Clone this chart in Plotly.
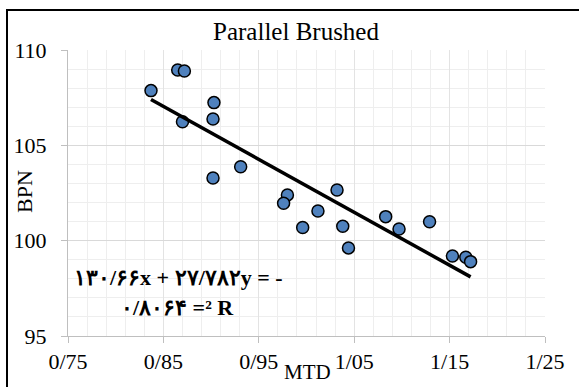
import plotly.graph_objects as go

# Data
mtd = [0.837, 0.865, 0.872, 0.903, 0.870, 0.902, 0.931, 0.902, 0.980, 0.976,
       0.996, 1.012, 1.032, 1.038, 1.044, 1.083, 1.097, 1.129, 1.153, 1.167, 1.172]
bpn = [107.87, 108.95, 108.90, 107.24, 106.24, 106.38, 103.88, 103.29, 102.40, 101.96,
       100.69, 101.56, 102.66, 100.76, 99.62, 101.26, 100.61, 100.99, 99.20, 99.13, 98.90]

slope = -27.782
intercept = 130.66

x_tickvals = [0.75, 0.85, 0.95, 1.05, 1.15, 1.25]
x_ticktext = ["0/75", "0/85", "0/95", "1/05", "1/15", "1/25"]
y_tickvals = [95, 100, 105, 110]
y_ticktext = ["95", "100", "105", "110"]

title_text = "Parallel Brushed"
x_title = "MTD"
y_title = "BPN"
eq_line1 = "۱۳۰/۶۶x + ۲۷/۷۸۲y = -"
eq_line2 = "۰/۸۰۶۴ =² R"

xmin, xmax = min(mtd), max(mtd)
trend_x = [xmin, xmax]
trend_y = [slope * v + intercept for v in trend_x]

FONT = "Liberation Serif, Times New Roman, serif"

fig = go.Figure()
fig.add_trace(go.Scatter(
    x=mtd, y=bpn, mode="markers",
    marker=dict(size=12, color="#4F81BD", line=dict(color="#000000", width=1.5)),
    showlegend=False, hoverinfo="skip"))
fig.add_trace(go.Scatter(
    x=trend_x, y=trend_y, mode="lines",
    line=dict(color="#000000", width=3.5),
    showlegend=False, hoverinfo="skip"))

W, H = 579, 387
L, R, T, B = 68, 545, 50, 336

def px_to_paper_x(px):
    return (px - L) / (R - L)

def py_to_paper_y(py):
    return (B - py) / (B - T)

fig.update_layout(
    width=W, height=H,
    margin=dict(l=L, r=W - R, t=T, b=H - B, pad=0, autoexpand=False),
    paper_bgcolor="white", plot_bgcolor="white",
    font=dict(family=FONT, color="#000000", size=22),
    title=dict(text=title_text, x=296 / W, xref="container", xanchor="center",
               y=1 - 31 / H, yref="container", yanchor="middle", automargin=False,
               font=dict(family=FONT, size=25, color="#000000")),
    xaxis=dict(range=[0.75, 1.25], tickmode="array", tickvals=x_tickvals, ticktext=x_ticktext,
               showgrid=True, gridcolor="#e3e3e3", gridwidth=1,
               minor=dict(tickmode="linear", dtick=0.02, tick0=0.75, showgrid=True,
                          gridcolor="#eeeeee", gridwidth=1, ticks=""),
               showline=True, linecolor="#bfbfbf", linewidth=1,
               ticks="outside", ticklen=6, tickcolor="#bfbfbf",
               tickfont=dict(family=FONT, size=22),
               automargin=False,
               zeroline=False, fixedrange=True),
    yaxis=dict(range=[95, 110], tickmode="array", tickvals=y_tickvals, ticktext=y_ticktext,
               showgrid=True, gridcolor="#d9d9d9", gridwidth=1,
               minor=dict(tickmode="linear", dtick=1, tick0=95, showgrid=True,
                          gridcolor="#eeeeee", gridwidth=1, ticks=""),
               showline=True, linecolor="#bfbfbf", linewidth=1,
               ticks="outside", ticklen=6, tickcolor="#bfbfbf",
               tickfont=dict(family=FONT, size=22),
               ticklabelstandoff=10,
               automargin=False,
               zeroline=False, fixedrange=True),
)

# chart border (extends past right/bottom edges as in the reference)
fig.add_shape(type="rect", xref="paper", yref="paper",
              x0=px_to_paper_x(7), x1=px_to_paper_x(590),
              y0=py_to_paper_y(400), y1=py_to_paper_y(10),
              line=dict(color="#000000", width=2), layer="below")

# axis titles
fig.add_annotation(xref="paper", yref="paper",
                   x=px_to_paper_x(307), y=py_to_paper_y(386),
                   text=x_title, showarrow=False, xanchor="center", yanchor="bottom",
                   font=dict(family=FONT, size=21, color="#000000"))
fig.add_annotation(xref="paper", yref="paper",
                   x=px_to_paper_x(24), y=py_to_paper_y(192),
                   text=y_title, showarrow=False, xanchor="center", yanchor="middle",
                   textangle=-90,
                   font=dict(family=FONT, size=22, color="#000000"))

fig.add_annotation(xref="paper", yref="paper",
                   x=px_to_paper_x(178), y=py_to_paper_y(277),
                   text="<b>" + eq_line1 + "</b>", showarrow=False,
                   xanchor="center", yanchor="middle",
                   font=dict(family=FONT, size=22, color="#000000"))
fig.add_annotation(xref="paper", yref="paper",
                   x=px_to_paper_x(177), y=py_to_paper_y(307),
                   text="<b>" + eq_line2 + "</b>", showarrow=False,
                   xanchor="center", yanchor="middle",
                   font=dict(family=FONT, size=22, color="#000000"))

fig.write_html("out.html")
